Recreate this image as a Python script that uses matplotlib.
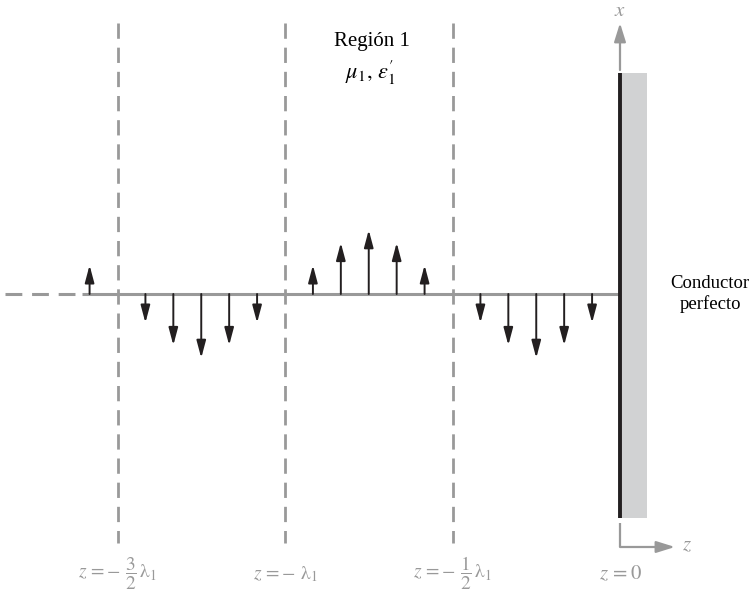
import matplotlib
matplotlib.use("Agg")
import matplotlib.pyplot as plt
from matplotlib.patches import Rectangle

plt.rcParams['font.family'] = ['Liberation Serif', 'DejaVu Serif']
plt.rcParams['mathtext.fontset'] = 'stix'

# ---- data (z in units of lambda_1, field in relative units) ----
arrow_z = [-19/12, -17/12, -16/12, -15/12, -14/12, -13/12,
           -11/12, -10/12, -9/12, -8/12, -7/12,
           -5/12, -4/12, -3/12, -2/12, -1/12]
arrow_E = [0.45, -0.45, -0.80, -1.0, -0.80, -0.45,
           0.45, 0.80, 1.0, 0.80, 0.45,
           -0.45, -0.80, -1.0, -0.80, -0.45]
node_z = [-1.5, -1.0, -0.5]
node_labels = [r'$z\,=-\ \dfrac{3}{2}\,\mathrm{\lambda}_1$',
               r'$z\,=-\ \mathrm{\lambda}_1$',
               r'$z\,=-\ \dfrac{1}{2}\,\mathrm{\lambda}_1$']
origin_label = r'$z\,=0$'

GRAY = '#999999'
DARK = '#231f20'

fig = plt.figure(figsize=(7.49, 5.91), dpi=100)
ax = fig.add_axes([0, 0, 1, 1])
ax.set_xlim(-620/335, 129/335)
ax.set_ylim(-(591-294)/64, 294/64)
ax.axis('off')

# horizontal axis line (solid + dashed extension)
ax.plot([-1.606, 0], [0, 0], color=GRAY, lw=2.2, solid_capstyle='butt', zorder=2)
ax.plot([-1.836, -1.606], [0, 0], color=GRAY, lw=2.2, dashes=(5.5, 3.2), zorder=2)

# vertical dashed node lines
label_y = -4.45
for zn, lab in zip(node_z, node_labels):
    ax.plot([zn, zn], [4.234, -3.89], color=GRAY, lw=2.0, dashes=(5.5, 3.2), zorder=1)
    ax.text(zn, label_y, lab, color=GRAY, fontsize=14, ha='center', va='baseline')
ax.text(0, label_y, origin_label, color=GRAY, fontsize=15, ha='center', va='baseline')

# field arrows
for zz, ee in zip(arrow_z, arrow_E):
    ax.annotate('', xy=(zz, ee), xytext=(zz, 0),
                arrowprops=dict(arrowstyle='-|>,head_length=0.75,head_width=0.2',
                                mutation_scale=14, lw=1.4, color=DARK,
                                shrinkA=0, shrinkB=0), zorder=3)

# perfect conductor
ax.add_patch(Rectangle((0, -3.5), 27/335, 6.953, facecolor='#d1d2d3',
                       edgecolor='none', zorder=1))
ax.plot([0, 0], [-3.5, 3.453], color=DARK, lw=2.8, solid_capstyle='butt', zorder=4)
ax.text(0.269, 0.0, 'Conductor\nperfecto', fontsize=13.5, ha='center', va='center',
        linespacing=1.2)

# x axis arrow
ax.annotate('', xy=(0, 4.234), xytext=(0, 3.5),
            arrowprops=dict(arrowstyle='-|>,head_length=0.8,head_width=0.25',
                            mutation_scale=14, lw=1.6, color=GRAY,
                            shrinkA=0, shrinkB=0))
ax.text(0, 4.42, r'$x$', color=GRAY, fontsize=15, ha='center', va='center')

# z axis arrow (corner)
ax.plot([0, 0], [-3.578, -3.953], color=GRAY, lw=1.6, solid_capstyle='butt')
ax.annotate('', xy=(0.164, -3.953), xytext=(0, -3.953),
            arrowprops=dict(arrowstyle='-|>,head_length=0.8,head_width=0.25',
                            mutation_scale=14, lw=1.6, color=GRAY,
                            shrinkA=0, shrinkB=0))
ax.text(0.2, -3.94, r'$z$', color=GRAY, fontsize=15, ha='center', va='center')

# region label
ax.text(-0.74, 3.94, 'Región 1', fontsize=15, ha='center', va='center')
ax.text(-0.745, 3.45, r"$\mu_1,\, \varepsilon_1^{\prime}$", fontsize=16,
        ha='center', va='center')

fig.savefig('out.png', dpi=100)
